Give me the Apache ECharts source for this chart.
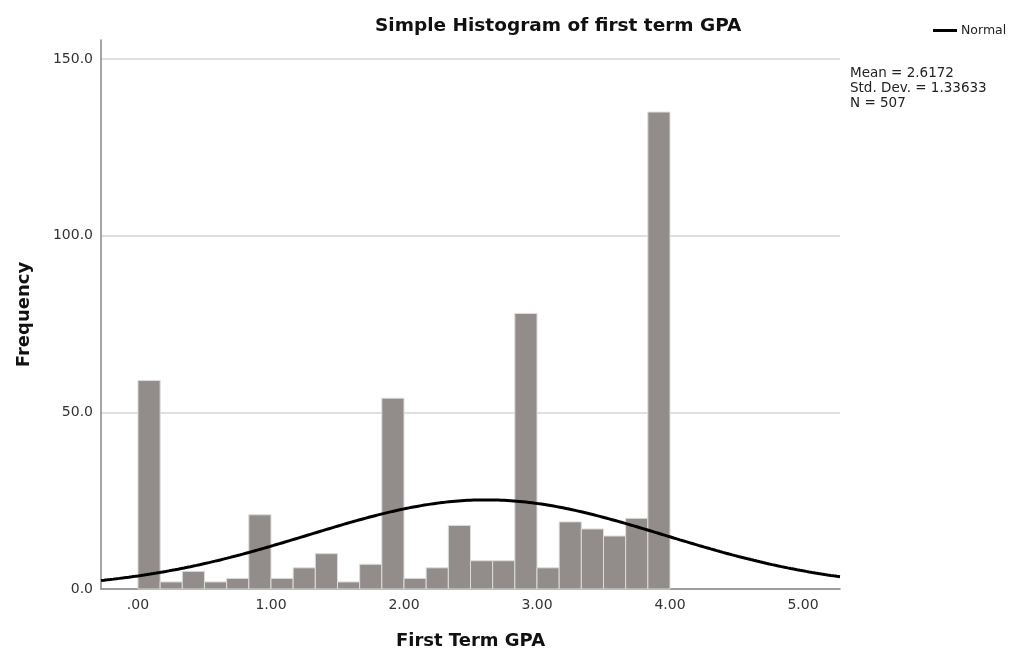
<!DOCTYPE html>
<html>
<head>
<meta charset="utf-8">
<title>Simple Histogram of first term GPA</title>
<script src="https://cdn.jsdelivr.net/npm/echarts@6/dist/echarts.min.js"></script>
<style>
  html, body { margin: 0; padding: 0; background: #ffffff; }
  #chart { width: 1013px; height: 651px; }
</style>
</head>
<body>
<div id="chart"></div>
<script>
// Frequency of first term GPA in bins of width 1/6, starting at 0.00
const binStart = 0;
const binWidth = 1 / 6;
const frequencies = [59, 2, 5, 2, 3, 21, 3, 6, 10, 2, 7, 54, 3, 6, 18, 8, 8, 78, 6, 19, 17, 15, 20, 135];

// Summary statistics shown beside the plot
const statMean = 2.6172;
const statStdDev = 1.33633;
const statN = 507;

// Axis ranges and tick values
const xRange = [-0.278, 5.278];
const xTickValues = [0, 1, 2, 3, 4, 5];
const yRange = [0, 155.4];
const yTickStep = 50;

const FONT = 'DejaVu Sans';

// Histogram rectangles: [lower edge, upper edge, count]
const binRows = frequencies.map((f, i) => [
  binStart + i * binWidth,
  binStart + (i + 1) * binWidth,
  f
]);

// Normal curve scaled to the histogram: N * bin width * density
const curvePoints = [];
const steps = 240;
for (let k = 0; k <= steps; k++) {
  const x = xRange[0] + (xRange[1] - xRange[0]) * k / steps;
  const z = (x - statMean) / statStdDev;
  const dens = Math.exp(-0.5 * z * z) / (statStdDev * Math.sqrt(2 * Math.PI));
  curvePoints.push([x, statN * binWidth * dens]);
}

const chart = echarts.init(document.getElementById('chart'), null, { renderer: 'canvas' });

chart.setOption({
  animation: false,
  backgroundColor: '#ffffff',
  title: {
    text: 'Simple Histogram of first term GPA',
    left: 370,
    top: 12,
    textStyle: { fontFamily: FONT, fontSize: 18.5, fontWeight: 'bold', color: '#111111' }
  },
  legend: {
    data: ['Normal'],
    left: 933,
    top: 24,
    padding: 0,
    icon: 'rect',
    itemWidth: 24,
    itemHeight: 3,
    itemGap: 4,
    textStyle: { fontFamily: FONT, fontSize: 12.5, color: '#222222', padding: [0, 0, 0, -1] }
  },
  grid: { left: 101, right: 173, top: 40, bottom: 62, containLabel: false, outerBoundsMode: 'none' },
  xAxis: {
    type: 'value',
    min: xRange[0],
    max: xRange[1],
    name: 'First Term GPA',
    nameLocation: 'middle',
    nameGap: 43,
    nameTextStyle: { fontFamily: FONT, fontSize: 18, fontWeight: 'bold', color: '#111111' },
    axisLine: { show: true, onZero: false, lineStyle: { color: '#888888', width: 1.5 } },
    axisTick: { show: false },
    splitLine: { show: false },
    axisLabel: {
      customValues: xTickValues,
      margin: 9,
      fontFamily: FONT,
      fontSize: 14,
      color: '#333333',
      formatter: v => (v === 0 ? '.00' : v.toFixed(2))
    }
  },
  yAxis: {
    type: 'value',
    min: yRange[0],
    max: yRange[1],
    interval: yTickStep,
    name: 'Frequency',
    nameLocation: 'middle',
    nameGap: 68,
    nameTextStyle: { fontFamily: FONT, fontSize: 18, fontWeight: 'bold', color: '#111111' },
    axisLine: { show: true, onZero: false, lineStyle: { color: '#888888', width: 1.5 } },
    axisTick: { show: false },
    splitLine: { show: true, showMaxLine: false, lineStyle: { color: '#d4d4d4', width: 1.5 } },
    axisLabel: {
      showMaxLabel: false,
      margin: 8,
      fontFamily: FONT,
      fontSize: 14,
      color: '#333333',
      formatter: v => v.toFixed(1)
    }
  },
  series: [
    {
      name: 'Frequency',
      type: 'custom',
      data: binRows,
      encode: { x: [0, 1], y: 2 },
      renderItem: (params, api) => {
        const lo = api.coord([api.value(0), api.value(2)]);
        const hi = api.coord([api.value(1), 0]);
        return {
          type: 'rect',
          shape: { x: lo[0], y: lo[1], width: hi[0] - lo[0], height: hi[1] - lo[1] },
          style: { fill: '#928d8b', stroke: '#dcdcdc', lineWidth: 1 }
        };
      },
      z: 2
    },
    {
      name: 'Normal',
      type: 'line',
      data: curvePoints,
      showSymbol: false,
      clip: true,
      lineStyle: { color: '#000000', width: 3 },
      itemStyle: { color: '#000000' },
      z: 3
    }
  ],
  graphic: [
    {
      type: 'text',
      left: 850,
      top: 66,
      style: {
        text: 'Mean = ' + statMean.toFixed(4) + '\nStd. Dev. = ' + statStdDev.toFixed(5) + '\nN = ' + statN,
        fontFamily: FONT,
        fontSize: 13.5,
        lineHeight: 15,
        fill: '#222222'
      }
    }
  ]
});
</script>
</body>
</html>
